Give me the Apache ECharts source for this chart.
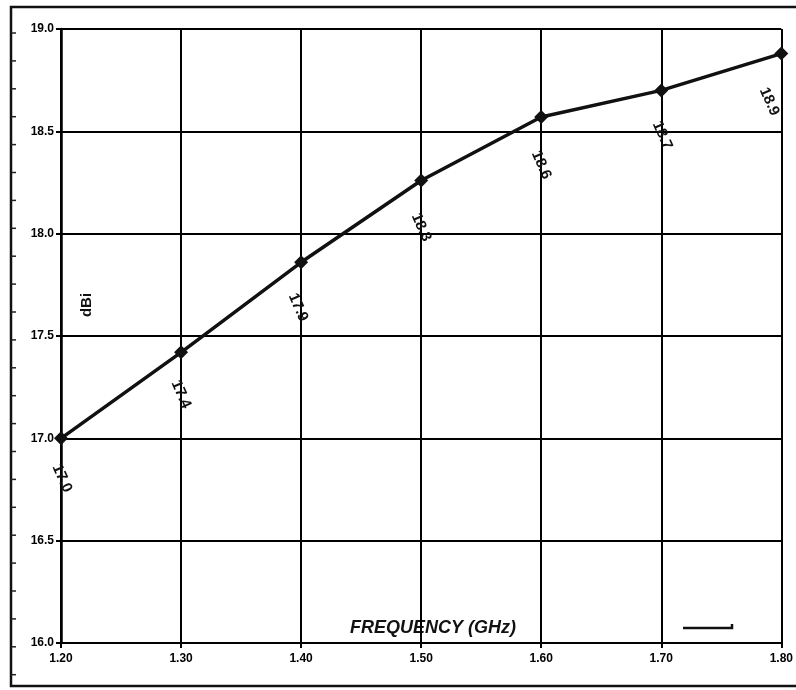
<!DOCTYPE html>
<html>
<head>
<meta charset="utf-8">
<script src="https://cdn.jsdelivr.net/npm/echarts@6/dist/echarts.min.js"></script>
<style>
  html, body { margin: 0; padding: 0; background: #fff; }
  #chart { width: 796px; height: 690px; }
</style>
</head>
<body>
<div id="chart"></div>
<script>
// frequency points (GHz) and gain (dBi)
const frequencies = ['1.20', '1.30', '1.40', '1.50', '1.60', '1.70', '1.80']
const gain = [17.0, 17.42, 17.86, 18.26, 18.57, 18.70, 18.88]
const yMin = 16.0
const yMax = 19.0
const yStep = 0.5

const chart = echarts.init(document.getElementById('chart'))

// label is rotated, so its offset is given in the rotated frame
const labelDeg = 66
const labelAngle = labelDeg * Math.PI / 180
const rotOffset = (dx, dy) => [
  dx * Math.cos(labelAngle) + dy * Math.sin(labelAngle),
  -dx * Math.sin(labelAngle) + dy * Math.cos(labelAngle)
]
const labelShift = [[1, 40], [0, 42], [-3, 45], [0, 47], [0, 48], [1, 45], [-12, 48]]
const seriesData = gain.map((v, i) => ({
  value: v,
  label: { offset: rotOffset(labelShift[i][0], labelShift[i][1]) }
}))

// small tick marks along the outer frame edge
const frameTicks = []
for (let i = 0; i < 24; i++) {
  const y = 33 + i * 27.9
  frameTicks.push({
    type: 'line',
    shape: { x1: 11, y1: y, x2: 16, y2: y },
    style: { stroke: '#222', lineWidth: 1.5 },
    silent: true
  })
}

const option = {
  backgroundColor: '#fff',
  animation: false,
  grid: { left: 61, right: 14, top: 29, bottom: 47 },
  xAxis: {
    type: 'category',
    data: frequencies,
    boundaryGap: false,
    axisLine: { lineStyle: { color: '#000', width: 2 } },
    axisTick: { show: true, alignWithLabel: true, length: 5, lineStyle: { color: '#000', width: 2 } },
    axisLabel: { color: '#000', fontFamily: 'Arial', fontWeight: 'bold', fontSize: 12, margin: 10 },
    splitLine: { show: true, lineStyle: { color: '#000', width: 2 } }
  },
  yAxis: {
    type: 'value',
    min: yMin,
    max: yMax,
    interval: yStep,
    axisLine: { show: true, lineStyle: { color: '#000', width: 2.5 } },
    axisTick: { show: true, length: 5, lineStyle: { color: '#000', width: 2 } },
    axisLabel: {
      color: '#000', fontFamily: 'Arial', fontWeight: 'bold', fontSize: 12, margin: 7,
      formatter: v => v.toFixed(1)
    },
    splitLine: { show: true, lineStyle: { color: '#000', width: 2 } }
  },
  series: [
    {
      type: 'line',
      data: seriesData,
      symbol: 'diamond',
      symbolSize: 14,
      lineStyle: { color: '#111', width: 3.5 },
      itemStyle: { color: '#111' },
      label: {
        show: true,
        position: 'inside',
        rotate: -labelDeg,
        color: '#111',
        fontFamily: 'Arial',
        fontWeight: 'bold',
        fontSize: 15,
        formatter: p => p.value.toFixed(1)
      }
    }
  ],
  graphic: [
    {
      type: 'rect',
      shape: { x: 11, y: 7, width: 800, height: 679 },
      style: { fill: 'none', stroke: '#111', lineWidth: 2.5 },
      silent: true
    },
    {
      type: 'text',
      x: 433, y: 628,
      style: {
        text: 'FREQUENCY (GHz)', fill: '#111',
        font: 'italic bold 18px Arial', align: 'center', verticalAlign: 'middle'
      }
    },
    {
      type: 'text',
      x: 87, y: 305,
      rotation: Math.PI / 2,
      style: {
        text: 'dBi', fill: '#111',
        font: 'bold 15px Arial', align: 'center', verticalAlign: 'middle'
      }
    },
    {
      type: 'polyline',
      shape: { points: [[683, 628], [732, 628], [732, 624]] },
      style: { stroke: '#111', lineWidth: 2.5, fill: 'none' },
      silent: true
    },
    ...frameTicks
  ]
}

option && chart.setOption(option)
</script>
</body>
</html>
